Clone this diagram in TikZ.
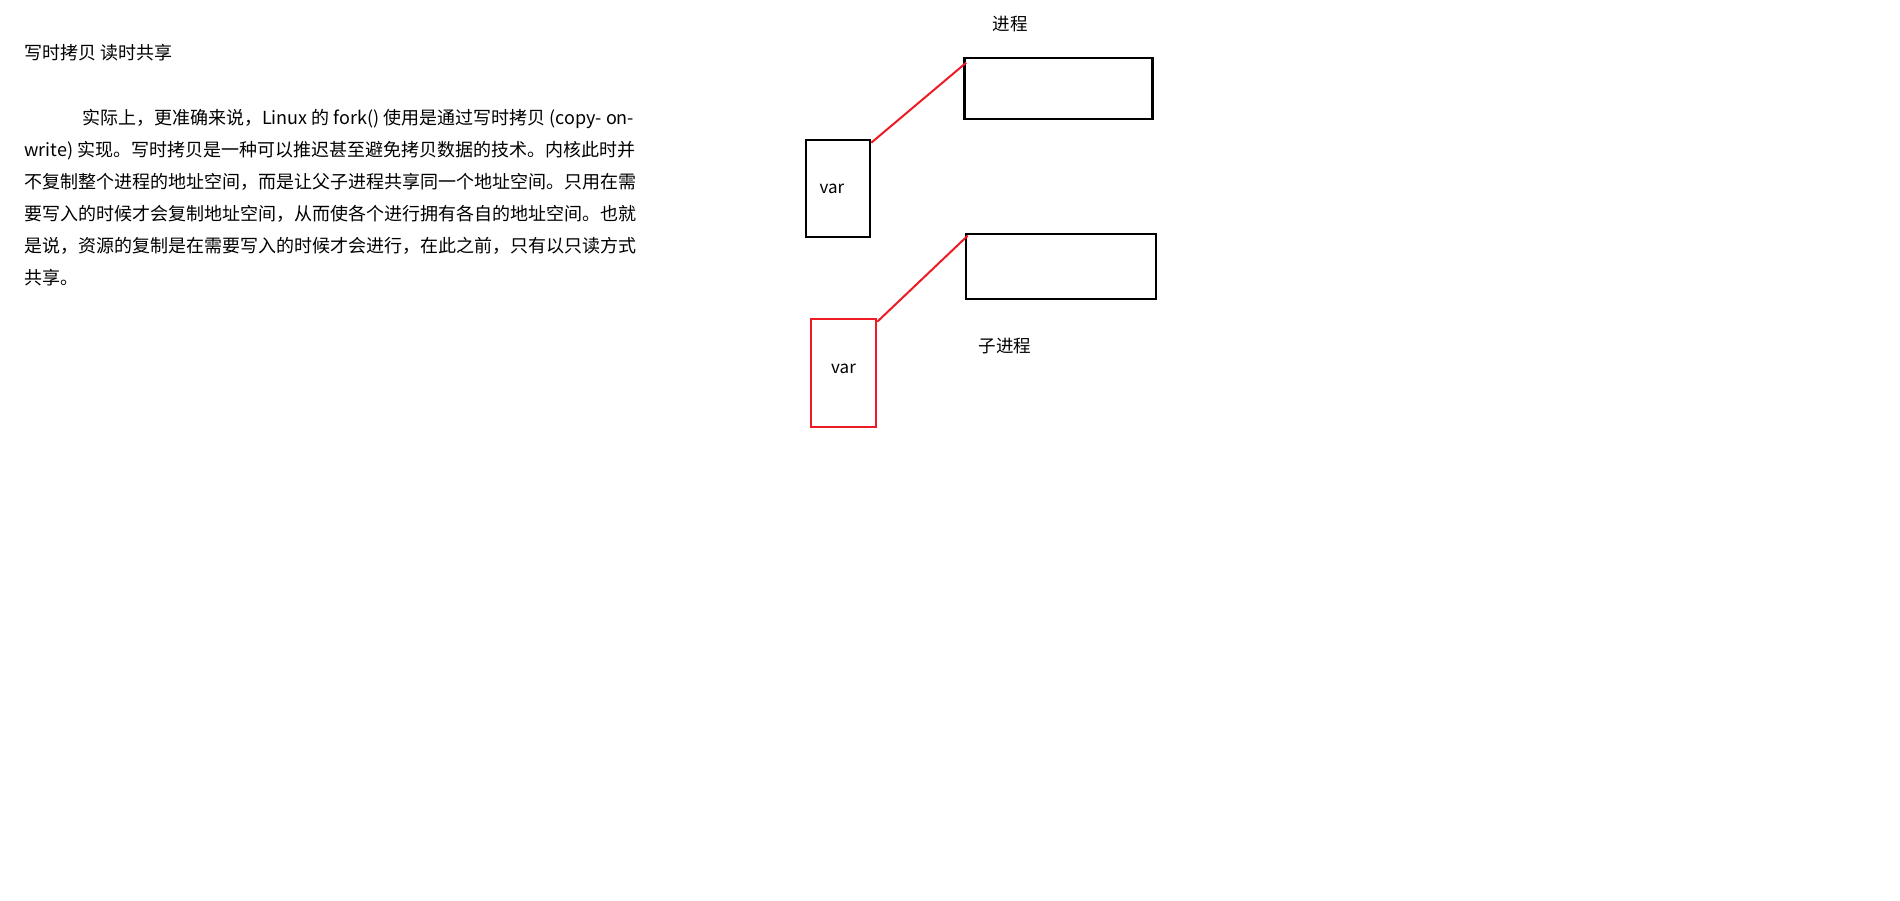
\documentclass[tikz,border=0pt]{standalone}
\usepackage{fontspec}
\setmainfont{Noto Sans CJK SC}
\usepackage{tikz}
\usetikzlibrary{positioning}
\definecolor{paintred}{RGB}{237,28,36}

\begin{document}
\begin{tikzpicture}[x=1pt,y=-1pt,
                    box/.style={draw=black,line width=2.6pt,inner sep=0pt},
                    varbox/.style={box,minimum width=64pt,minimum height=97pt,font=\fontsize{17}{20}\selectfont},
                    membox/.style={box,minimum width=188pt,minimum height=61pt},
                    link/.style={draw=paintred,line width=2pt},
                    lbl/.style={font=\fontsize{17.5}{20}\selectfont,inner sep=0pt}]
    \useasboundingbox (0,0) rectangle (1900,900);
    % text on the left
    \node[anchor=base west,inner sep=0pt,font=\fontsize{18}{32}\selectfont] (title) at (24,59) {写时拷贝 读时共享};
    \node[anchor=north west,inner sep=0pt,align=left,font=\fontsize{18}{32}\selectfont] (para) at (24,109)
        {\hspace*{58pt}实际上，更准确来说，Linux 的 fork() 使用是通过写时拷贝 (copy- on-\\
         write) 实现。写时拷贝是一种可以推迟甚至避免拷贝数据的技术。内核此时并\\
         不复制整个进程的地址空间，而是让父子进程共享同一个地址空间。只用在需\\
         要写入的时候才会复制地址空间，从而使各个进行拥有各自的地址空间。也就\\
         是说，资源的复制是在需要写入的时候才会进行，在此之前，只有以只读方式\\
         共享。};
    % parent process
    \node[lbl] (ptitle) at (1010,24) {进程};
    \node[membox] (parent) at (1058.5,88.5) {};
    \node[varbox] (pvar) at (838,188.5) {\hspace*{-12pt}var};
    \draw[link] ([yshift=-4pt]pvar.north east) -- ([xshift=3pt,yshift=-6pt]parent.north west);
    % child process
    \node[membox,minimum width=190pt,minimum height=65pt] (child) at (1061,266.5) {};
    \node[lbl] (ctitle) at (1005,346) {子进程};
    \node[varbox,draw=paintred,minimum width=65pt,minimum height=108pt] (cvar) at (843.5,373) {\raisebox{8pt}{var}};
    \draw[link] ([yshift=-4pt]cvar.north east) -- ([xshift=3pt,yshift=-3pt]child.north west);
\end{tikzpicture}
\end{document}
